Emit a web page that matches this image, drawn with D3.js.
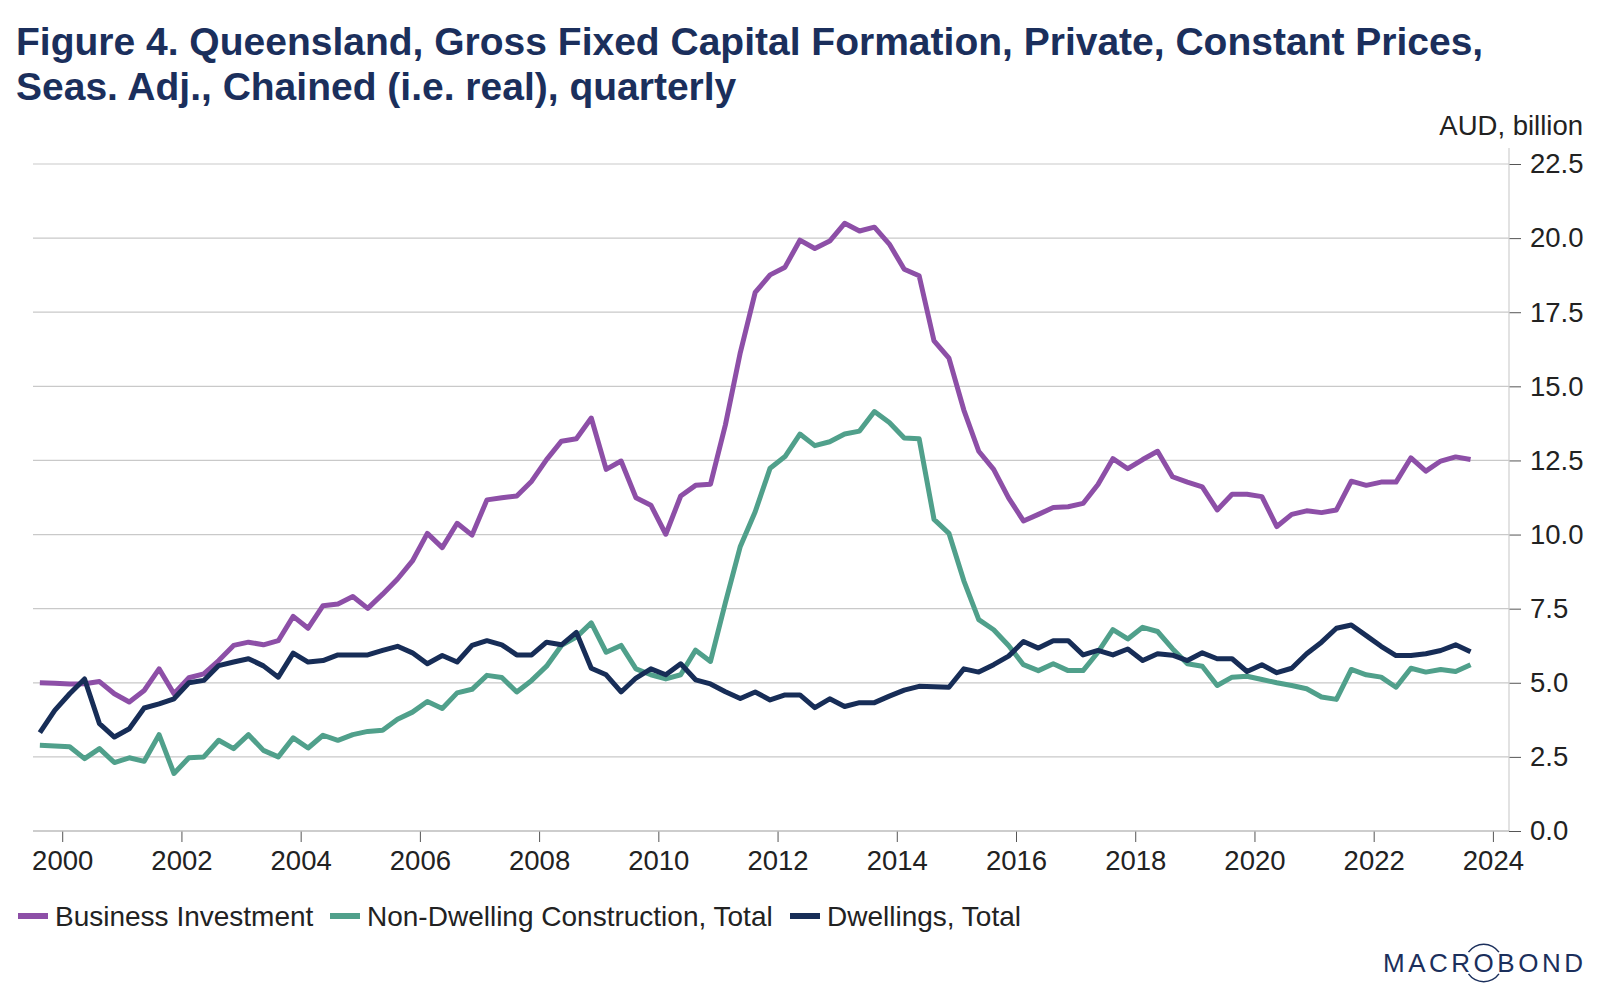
<!DOCTYPE html>
<html>
<head>
<meta charset="utf-8">
<script src="https://cdn.jsdelivr.net/npm/d3@7"></script>
<style>
  body { margin: 0; background: #fff; }
  svg text { font-family: "Liberation Sans", Arial, sans-serif; }
</style>
</head>
<body>
<script>
// quarterly, 1999 Q3 .. 2023 Q3
var firstYear = 1999, firstQuarter = 3, nQuarters = 97;

var business = [
  5.00, 4.98, 4.96, 4.97, 5.04, 4.63, 4.35, 4.74, 5.47, 4.63,
  5.17, 5.30, 5.75, 6.26, 6.37, 6.28, 6.42, 7.24, 6.84, 7.60,
  7.66, 7.91, 7.51, 7.99, 8.50, 9.11, 10.04, 9.56, 10.38, 9.98,
  11.17, 11.24, 11.30, 11.80, 12.53, 13.15, 13.23, 13.93, 12.20, 12.48,
  11.24, 10.99, 10.01, 11.30, 11.66, 11.70, 13.70, 16.14, 18.17, 18.76,
  19.02, 19.93, 19.65, 19.90, 20.50, 20.24, 20.37, 19.80, 18.95, 18.73,
  16.53, 15.95, 14.20, 12.81, 12.20, 11.24, 10.46, 10.68, 10.91, 10.94,
  11.05, 11.69, 12.56, 12.22, 12.53, 12.81, 11.95, 11.77, 11.61, 10.83,
  11.36, 11.36, 11.28, 10.27, 10.68, 10.80, 10.74, 10.83, 11.80, 11.66,
  11.77, 11.77, 12.59, 12.14, 12.48, 12.62, 12.53
];

var nonDwelling = [
  2.89, 2.87, 2.84, 2.44, 2.78, 2.31, 2.47, 2.35, 3.25, 1.94,
  2.47, 2.50, 3.06, 2.78, 3.25, 2.72, 2.50, 3.14, 2.80, 3.23,
  3.06, 3.25, 3.36, 3.40, 3.77, 4.01, 4.37, 4.13, 4.66, 4.78,
  5.25, 5.18, 4.69, 5.08, 5.56, 6.26, 6.54, 7.02, 6.03, 6.26,
  5.47, 5.27, 5.13, 5.27, 6.10, 5.72, 7.70, 9.60, 10.77, 12.24,
  12.63, 13.39, 13.00, 13.13, 13.39, 13.49, 14.15, 13.78, 13.26, 13.23,
  10.51, 10.04, 8.44, 7.13, 6.79, 6.26, 5.61, 5.41, 5.64, 5.41,
  5.41, 6.03, 6.79, 6.48, 6.87, 6.73, 6.15, 5.64, 5.56, 4.91,
  5.19, 5.22, 5.11, 5.00, 4.91, 4.80, 4.52, 4.44, 5.45, 5.27,
  5.19, 4.85, 5.49, 5.36, 5.45, 5.38, 5.61
];

var dwellings = [
  3.32, 4.07, 4.63, 5.13, 3.62, 3.17, 3.45, 4.15, 4.29, 4.46,
  5.00, 5.08, 5.58, 5.70, 5.81, 5.57, 5.19, 6.00, 5.70, 5.75,
  5.94, 5.94, 5.94, 6.09, 6.23, 6.01, 5.64, 5.92, 5.70, 6.26,
  6.42, 6.28, 5.94, 5.94, 6.37, 6.28, 6.70, 5.49, 5.27, 4.69,
  5.16, 5.47, 5.27, 5.64, 5.10, 4.96, 4.70, 4.47, 4.69, 4.42,
  4.59, 4.59, 4.16, 4.46, 4.20, 4.33, 4.33, 4.55, 4.75, 4.88,
  4.87, 4.85, 5.47, 5.36, 5.61, 5.90, 6.39, 6.17, 6.42, 6.42,
  5.94, 6.09, 5.94, 6.14, 5.75, 5.98, 5.93, 5.75, 6.01, 5.81,
  5.81, 5.38, 5.61, 5.34, 5.49, 5.98, 6.37, 6.84, 6.95, 6.59,
  6.23, 5.92, 5.92, 5.98, 6.09, 6.28, 6.05
];

var seriesNames = ["Business Investment", "Non-Dwelling Construction, Total", "Dwellings, Total"];
var seriesColors = ["#8d4fa7", "#50a08b", "#172d57"];
var xTicks = [2000, 2002, 2004, 2006, 2008, 2010, 2012, 2014, 2016, 2018, 2020, 2022, 2024];
var yTicks = [0, 2.5, 5, 7.5, 10, 12.5, 15, 17.5, 20, 22.5];

var titleLines = [
  "Figure 4. Queensland, Gross Fixed Capital Formation, Private, Constant Prices,",
  "Seas. Adj., Chained (i.e. real), quarterly"
];

// mid-quarter position as decimal year
var quarterPos = d3.range(nQuarters).map(function(i) {
  var q = firstQuarter - 1 + i;
  return firstYear + Math.floor(q / 4) + ((q % 4) + 0.5) / 4;
});

var W = 1600, H = 1000;
var plot = { left: 33, right: 1509, top: 164, bottom: 831 };
var axisFont = 27.5;

var svg = d3.select("body").append("svg")
  .attr("width", W)
  .attr("height", H);

var x = d3.scaleLinear().domain([1999.51, 2024.27]).range([plot.left, plot.right]);
var y = d3.scaleLinear().domain([0, 22.5]).range([plot.bottom, plot.top]);

// title
svg.append("g").selectAll("text")
  .data(titleLines)
  .enter().append("text")
  .attr("x", 16)
  .attr("y", function(d, i) { return 55 + i * 45; })
  .attr("fill", "#1b2f5c")
  .attr("font-size", 39)
  .attr("font-weight", "bold")
  .text(function(d) { return d; });

// gridlines
svg.append("g").selectAll("line")
  .data(yTicks.slice(1))
  .enter().append("line")
  .attr("x1", plot.left).attr("x2", plot.right)
  .attr("y1", function(d) { return y(d); })
  .attr("y2", function(d) { return y(d); })
  .attr("stroke", "#c9c9c9")
  .attr("stroke-width", 1.2);

// right axis
var yAxis = svg.append("g")
  .attr("transform", "translate(" + plot.right + ",0)")
  .call(d3.axisRight(y).tickValues(yTicks).tickFormat(d3.format(".1f")).tickSize(12).tickPadding(9));
yAxis.select(".domain").remove();
yAxis.append("line")
  .attr("x1", 0).attr("x2", 0)
  .attr("y1", 148).attr("y2", plot.bottom)
  .attr("stroke", "#cfcfcf").attr("stroke-width", 1.2);
yAxis.selectAll(".tick line").attr("stroke", "#555");
yAxis.selectAll(".tick text").attr("font-size", axisFont).attr("fill", "#222");

svg.append("text")
  .attr("x", 1583).attr("y", 135)
  .attr("text-anchor", "end")
  .attr("font-size", axisFont)
  .attr("fill", "#222")
  .text("AUD, billion");

// bottom axis
var xAxis = svg.append("g")
  .attr("transform", "translate(0," + plot.bottom + ")")
  .call(d3.axisBottom(x).tickValues(xTicks).tickFormat(d3.format("d")).tickSize(11).tickPadding(8));
xAxis.select(".domain").remove();
xAxis.append("line")
  .attr("x1", plot.left).attr("x2", plot.right)
  .attr("stroke", "#bdbdbd").attr("stroke-width", 1.5);
xAxis.selectAll(".tick line").attr("stroke", "#555");
xAxis.selectAll(".tick text").attr("font-size", axisFont).attr("fill", "#222");

// lines
var line = d3.line()
  .x(function(d, i) { return x(quarterPos[i]); })
  .y(function(d) { return y(d); });

svg.append("g").selectAll("path")
  .data([business, nonDwelling, dwellings])
  .enter().append("path")
  .attr("d", line)
  .attr("fill", "none")
  .attr("stroke", function(d, i) { return seriesColors[i]; })
  .attr("stroke-width", 5)
  .attr("stroke-linejoin", "round");

// legend
var legendX = [18, 330, 790];
var legend = svg.append("g").selectAll("g")
  .data(seriesNames)
  .enter().append("g")
  .attr("transform", function(d, i) { return "translate(" + legendX[i] + ",916)"; });
legend.append("rect")
  .attr("x", 0).attr("y", -3)
  .attr("width", 30).attr("height", 6)
  .attr("fill", function(d, i) { return seriesColors[i]; });
legend.append("text")
  .attr("x", 37).attr("y", 10)
  .attr("font-size", 28)
  .attr("fill", "#222")
  .text(function(d) { return d; });

// logo
var logo = svg.append("text")
  .attr("x", 1383).attr("y", 972)
  .attr("font-size", 26)
  .attr("font-weight", 300)
  .attr("fill", "#1b2f5c")
  .attr("textLength", 200)
  .attr("lengthAdjust", "spacing")
  .text("MACROBOND");
var oBox = logo.node().getExtentOfChar(4);
var cx = oBox.x + oBox.width / 2, cy = 963;
var arc = d3.arc().innerRadius(18).outerRadius(19.5);
svg.append("path")
  .attr("transform", "translate(" + cx + "," + cy + ")")
  .attr("d", arc({ startAngle: -0.95, endAngle: 0.95 }))
  .attr("fill", "#1b2f5c");
svg.append("path")
  .attr("transform", "translate(" + cx + "," + cy + ")")
  .attr("d", arc({ startAngle: Math.PI - 0.95, endAngle: Math.PI + 0.95 }))
  .attr("fill", "#1b2f5c");
</script>
</body>
</html>
